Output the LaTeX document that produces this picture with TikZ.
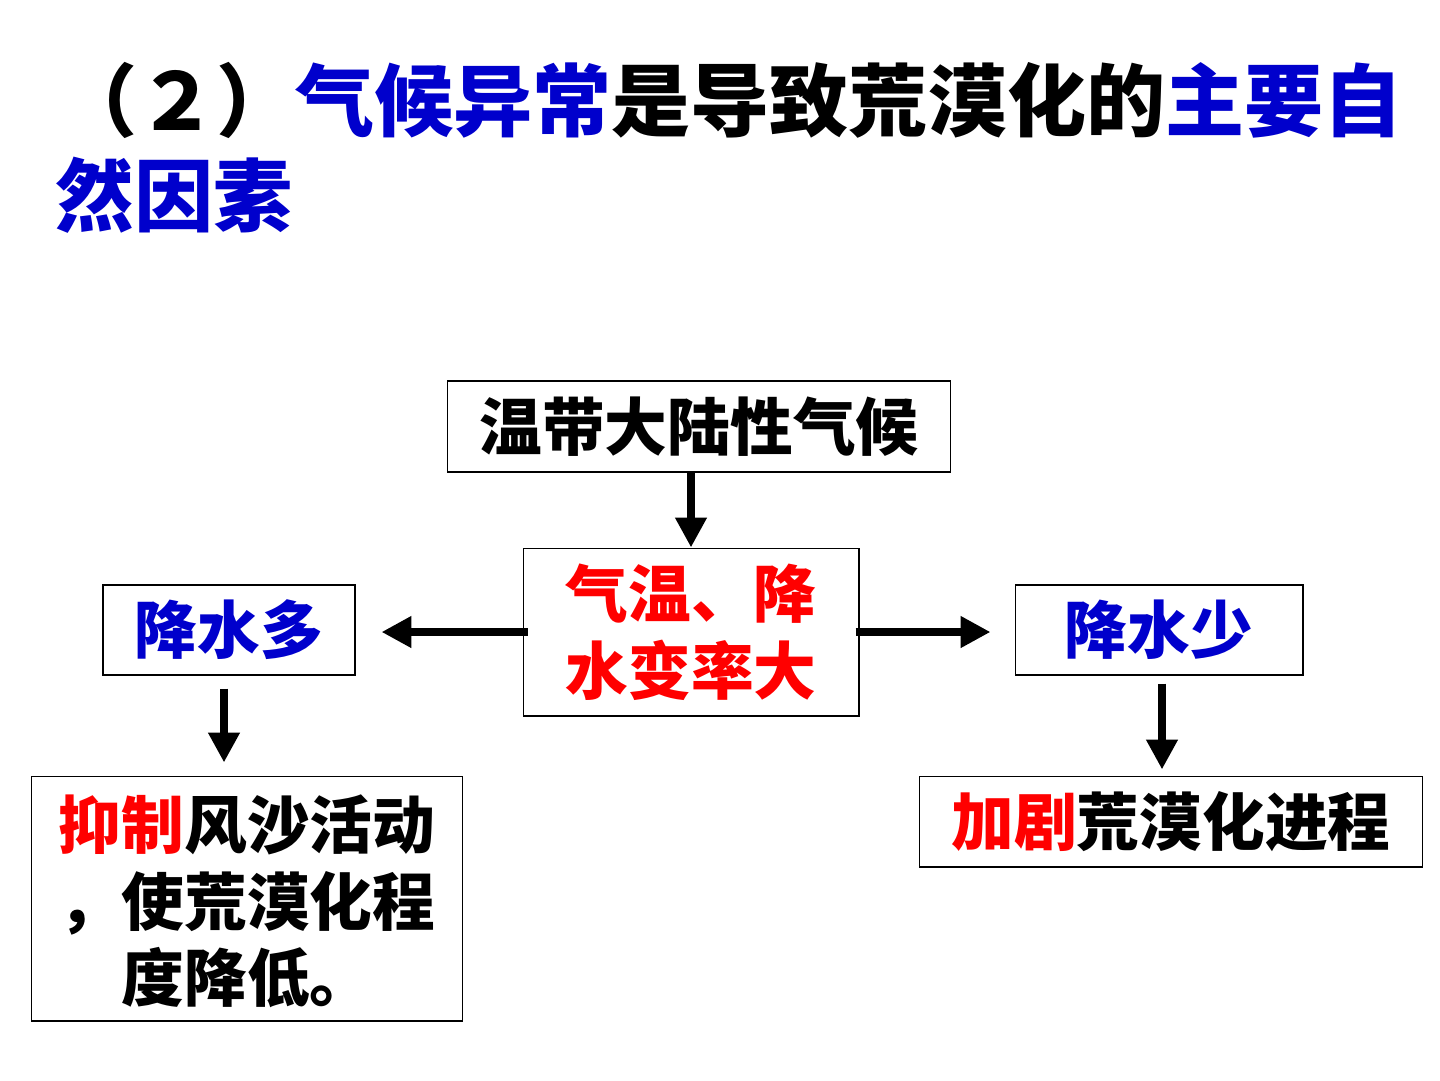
\documentclass[tikz,border=0pt]{standalone}
\usepackage{fontspec}
\setmainfont{Noto Sans CJK SC}
\usepackage{xcolor}
\usetikzlibrary{arrows.meta, positioning}

\definecolor{titleblue}{RGB}{0,0,204}
\definecolor{keyred}{RGB}{255,0,0}

\begin{document}
\begin{tikzpicture}[
  x=0.02cm, y=-0.02cm,
  box/.style={
    draw, line width=0.6pt, inner sep=0pt, align=center,
    font=\bfseries\fontsize{35.7}{43.5}\selectfont
  },
  arrow/.style={-{Triangle[length=0.6cm,width=0.6cm]}, line width=5pt},
  headline/.style={anchor=base west, inner sep=0pt, font=\bfseries\fontsize{45}{54}\selectfont}
]
\useasboundingbox (0,0) rectangle (1440,1080);

% --- Title ---
\node[headline] (head1) at (58,130) {（２）\textcolor{titleblue}{气候异常}是导致荒漠化的\textcolor{titleblue}{主要自}};
\node[headline, text=titleblue] (head2) at (55,225) {然因素};

% --- Boxes ---
\node[box, minimum width=10.08cm, minimum height=1.82cm] (climate) at (699,426.5) {温带大陆性气候};
\node[box, text=keyred, minimum width=6.72cm, minimum height=3.36cm] (change) at (691,632) {气温、降\\水变率大};
\node[box, text=titleblue, minimum width=5.04cm, minimum height=1.8cm] (wetter) at (229,630) {降水多};
\node[box, text=titleblue, minimum width=5.76cm, minimum height=1.8cm] (drier) at (1159,630) {降水少};
\node[box, minimum width=8.64cm, minimum height=4.9cm, text depth=-0.1cm] (curb) at (247,898.5) {\textcolor{keyred}{抑制}风沙活动\\，使荒漠化程\\度降低。};
\node[box, minimum width=10.08cm, minimum height=1.82cm] (worsen) at (1171,821.5) {\textcolor{keyred}{加剧}荒漠化进程};

% --- Arrows ---
\draw[arrow] (change.north |- climate.south) -- (change.north);
\draw[arrow, shorten <=-0.1cm, shorten >=0.52cm] (change.west) -- (change.west -| wetter.east);
\draw[arrow, shorten <=-0.08cm, shorten >=0.48cm] (change.east) -- (change.east -| drier.west);
\draw[arrow, shorten <=0.26cm, shorten >=0.26cm] ([xshift=-0.1cm]wetter.south) -- ([xshift=-0.1cm]wetter.south |- curb.north);
\draw[arrow, shorten <=0.16cm, shorten >=0.12cm] ([xshift=0.06cm]drier.south) -- ([xshift=0.06cm]drier.south |- worsen.north);

\end{tikzpicture}
\end{document}
